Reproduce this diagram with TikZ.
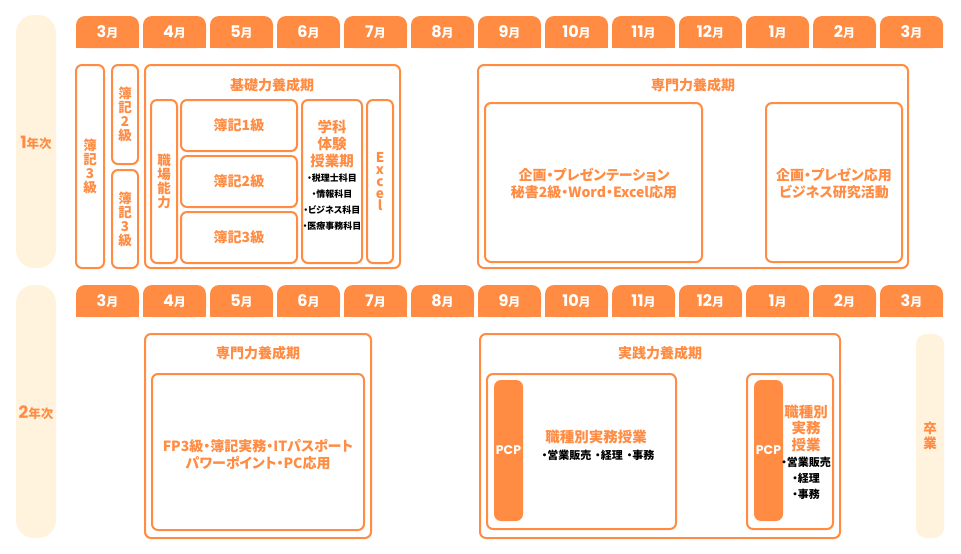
\documentclass[tikz,border=0pt]{standalone}
\usepackage{fontspec}
\setmainfont{Noto Sans CJK JP}[RawFeature=+palt]
\newfontfamily\popfont{Poppins}
\usetikzlibrary{fit}
\definecolor{og}{HTML}{FF8C42}
\definecolor{cream}{HTML}{FFF3DE}
\newcommand\mon[1]{{\popfont\bfseries\fontsize{16}{16}\selectfont #1}{\bfseries\fontsize{12}{12}\selectfont 月}}
\begin{document}
\begin{tikzpicture}[x=1pt,y=-1pt,
 box/.style={draw=og, line width=2pt, rounded corners=6pt, fill=white, inner sep=0pt, outer sep=0pt},
 bar/.style={fill=og, rounded corners=7pt, inner sep=0pt, outer sep=0pt},
 yearbox/.style={fill=cream, rounded corners=18pt, inner sep=0pt, outer sep=0pt},
 tab/.style={fill=og, rounded corners=9pt, inner sep=0pt, outer sep=0pt, minimum width=63pt, minimum height=32pt, anchor=north west, text=white},
 otxt/.style={text=og, font=\bfseries\fontsize{14}{17}\selectfont, align=center, inner sep=0pt},
 btxt/.style={text=og, font=\bfseries\fontsize{14.5}{16.5}\selectfont, align=center, inner sep=0pt},
 ktxt/.style={text=black, font=\bfseries\fontsize{9}{16}\selectfont, align=center, inner sep=0pt},
 kbig/.style={text=black, font=\bfseries\fontsize{11}{16}\selectfont, align=center, inner sep=0pt},
 vtxt/.style={text=og, font=\bfseries\fontsize{13.5}{14}\selectfont, align=center, inner sep=0pt},
 ptxt/.style={text=white, font=\popfont\bfseries\fontsize{12.5}{12.5}\selectfont, inner sep=0pt},
 ytxt/.style={text=og, inner sep=0pt},
]
\useasboundingbox (0,0) rectangle (961,554);
% month tabs
\foreach \m [count=\i from 0] in {3,4,5,6,7,8,9,10,11,12,1,2,3}{
  \fill[og] (76+67*\i,32) rectangle (139+67*\i,48);
  \node[tab] (ta\i) at (76+67*\i,16) {\mon{\m}};
  \fill[og] (76+67*\i,301) rectangle (139+67*\i,317);
  \node[tab] (tb\i) at (76+67*\i,285) {\mon{\m}};
}
% year labels
\node[yearbox, fit={(16,15)(56,268)}] (y1) {};
\node[ytxt] (y1t) at (36,143) {{\popfont\bfseries\fontsize{17}{17}\selectfont 1}{\bfseries\fontsize{12.5}{12.5}\selectfont 年次}};
\node[yearbox, fit={(16,285)(56,538)}] (y2) {};
\node[ytxt] (y2t) at (36,413) {{\popfont\bfseries\fontsize{17}{17}\selectfont 2}{\bfseries\fontsize{12.5}{12.5}\selectfont 年次}};
% ---- year 1
\node[box, fit={(76,65)(104,268)}] (b3a) {};
\node[vtxt] (b3at) at (b3a.center) {簿\\記\\3\\級};
\node[box, fit={(112,65)(138,164)}] (b2) {};
\node[vtxt] (b2t) at (b2.center) {簿\\記\\2\\級};
\node[box, fit={(112,170)(138,268)}] (b3b) {};
\node[vtxt] (b3bt) at (b3b.center) {簿\\記\\3\\級};
\node[box, fit={(145,65)(400,268)}] (kiso) {};
\node[otxt] (kisot) at (272,85) {基礎力養成期};
\node[box, fit={(151,100)(177,263)}] (shok) {};
\node[vtxt] (shokt) at (shok.center) {職\\場\\能\\力};
\node[box, fit={(181,100)(297,151)}] (k1) {};
\node[otxt] (k1t) at (k1.center) {簿記1級};
\node[box, fit={(181,156)(297,207)}] (k2) {};
\node[otxt] (k2t) at (k2.center) {簿記2級};
\node[box, fit={(181,212)(297,263)}] (k3) {};
\node[otxt] (k3t) at (k3.center) {簿記3級};
\node[box, fit={(302,100)(362,263)}] (gaku) {};
\node[btxt, font=\bfseries\fontsize{14.5}{17}\selectfont] (gakut) at (332,144) {学科\\体験\\授業期};
\node[ktxt] (gakul) at (332,202) {・税理士科目\\・情報科目\\・ビジネス科目\\・医療事務科目};
\node[box, fit={(367,100)(393,263)}] (xl) {};
\node[vtxt, font=\bfseries\fontsize{13.5}{12}\selectfont] (xlt) at (xl.center) {E\\x\\c\\e\\l};
\node[box, fit={(478,65)(908,268)}] (sen1) {};
\node[otxt] (sen1t) at (693,85) {専門力養成期};
\node[box, fit={(485,103)(702,262)}] (s1a) {};
\node[otxt] (s1at) at (594,184) {企画・プレゼンテーション\\秘書2級・Word・Excel応用};
\node[box, fit={(766,103)(902,262)}] (s1b) {};
\node[otxt] (s1bt) at (834,184) {企画・プレゼン応用\\ビジネス研究活動};
% ---- year 2
\node[box, fit={(145,334)(371,538)}] (sen2) {};
\node[otxt] (sen2t) at (258,353) {専門力養成期};
\node[box, fit={(152,374)(364,530)}] (s2a) {};
\node[otxt] (s2at) at (258,455) {FP3級・簿記実務・ITパスポート\\パワーポイント・PC応用};
\node[box, fit={(480,334)(840,538)}] (jis) {};
\node[otxt] (jist) at (660,353) {実践力養成期};
\node[box, fit={(487,374)(676,529)}] (j1) {};
\node[bar, fit={(494,380)(523,521)}] (p1) {};
\node[ptxt] (p1t) at (p1.center) {PCP};
\node[btxt] (j1t) at (596,437) {職種別実務授業};
\node[kbig] (j1l) at (598,455) {・営業販売\hspace{4pt}・経理\hspace{4pt}・事務};
\node[box, fit={(747,374)(833,529)}] (j2) {};
\node[bar, fit={(754,380)(783,521)}] (p2) {};
\node[ptxt] (p2t) at (p2.center) {PCP};
\node[btxt] (j2t) at (806,428) {職種別\\実務\\授業};
\node[kbig] (j2l) at (806,478) {・営業販売\\・経理\\・事務};
\node[yearbox, rounded corners=10pt, fit={(916,334)(944,538)}] (sotsu) {};
\node[vtxt, font=\bfseries\fontsize{13.5}{15}\selectfont] (sotsut) at (930,436) {卒\\業};
\end{tikzpicture}
\end{document}
